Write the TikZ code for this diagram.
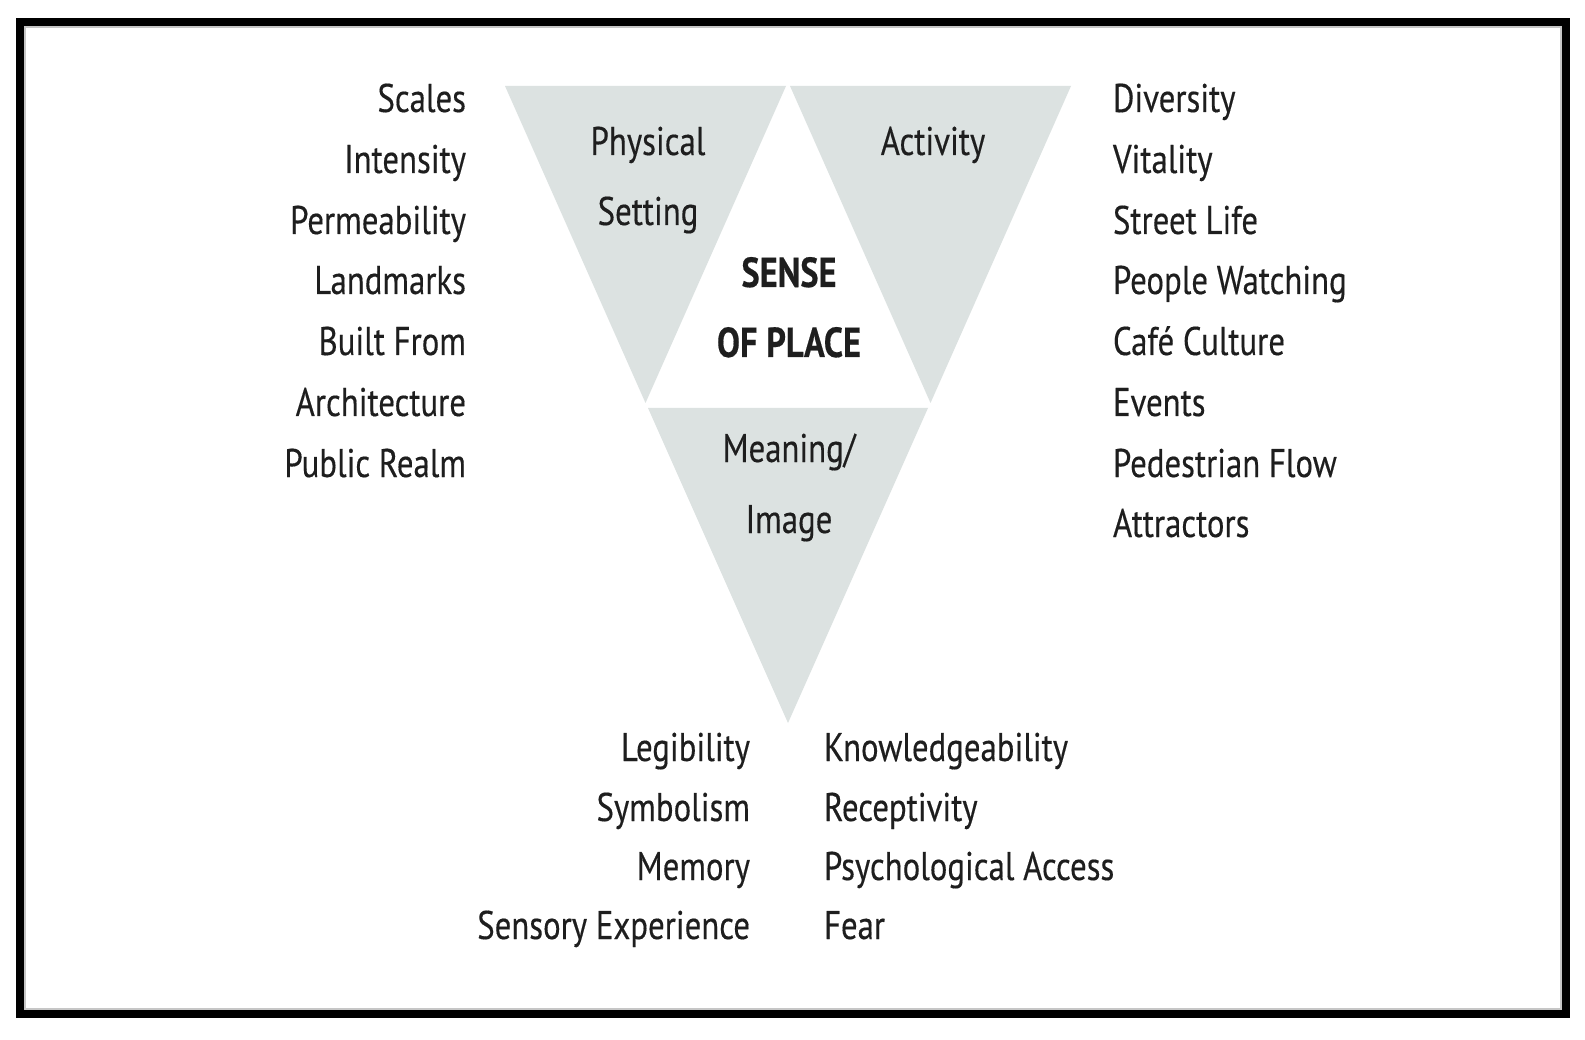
\documentclass[tikz,border=0pt]{standalone}
\usepackage{fontspec}
\setmainfont[FakeStretch=0.82, FakeBold=0.3]{PT Sans}
\begin{document}
\begin{tikzpicture}[x=1pt,y=-1pt,
  lbl/.style={inner sep=0pt, outer sep=0pt, text=txt, font=\fontsize{40}{40}\selectfont},
  lft/.style={lbl, anchor=base east},
  rgt/.style={lbl, anchor=base west},
  ctr/.style={lbl, anchor=base},
  tri/.style={fill=trigray, draw=none},
  frame/.style={draw=black, line width=8pt}]
\definecolor{trigray}{RGB}{220,226,225}
\definecolor{txt}{RGB}{30,30,30}
\useasboundingbox (0,0) rectangle (1585,1040);
\fill[white] (0,0) rectangle (1585,1040);
% frame
\draw[frame] (20,22) rectangle (1566,1014);
\draw[gray!45, line width=1.5pt] (25,27) rectangle (1561,1009);
% triangles
\fill[tri] (505,86) -- (786,86) -- (645.5,403) -- cycle;
\fill[tri] (790,86) -- (1071,86) -- (930.5,403) -- cycle;
\fill[tri] (648,408) -- (928,408) -- (788,723) -- cycle;
% triangle labels
\node[ctr] (phys) at (648,155) {Physical};
\node[ctr] (sett) at (648,225) {Setting};
\node[ctr] (act) at (933,155) {Activity};
\node[ctr] (mean) at (789,462) {Meaning/};
\node[ctr] (img) at (789,533) {Image};
\node[ctr, font=\fontsize{42}{42}\selectfont\bfseries] (sense) at (789,287) {SENSE};
\node[ctr, font=\fontsize{42}{42}\selectfont\bfseries] (ofplace) at (789,357) {OF PLACE};
% left column
\node[lft] (l1) at (466,112) {Scales};
\node[lft] (l2) at (466,173) {Intensity};
\node[lft] (l3) at (466,234) {Permeability};
\node[lft] (l4) at (466,294) {Landmarks};
\node[lft] (l5) at (466,355) {Built From};
\node[lft] (l6) at (466,416) {Architecture};
\node[lft] (l7) at (466,477) {Public Realm};
% right column
\node[rgt] (r1) at (1113,112) {Diversity};
\node[rgt] (r2) at (1113,173) {Vitality};
\node[rgt] (r3) at (1113,234) {Street Life};
\node[rgt] (r4) at (1113,294) {People Watching};
\node[rgt] (r5) at (1113,355) {Café Culture};
\node[rgt] (r6) at (1113,416) {Events};
\node[rgt] (r7) at (1113,477) {Pedestrian Flow};
\node[rgt] (r8) at (1113,537) {Attractors};
% bottom left
\node[lft] (b1) at (750,761) {Legibility};
\node[lft] (b2) at (750,821) {Symbolism};
\node[lft] (b3) at (750,880) {Memory};
\node[lft] (b4) at (750,939) {Sensory Experience};
% bottom right
\node[rgt] (c1) at (824,761) {Knowledgeability};
\node[rgt] (c2) at (824,821) {Receptivity};
\node[rgt] (c3) at (824,880) {Psychological Access};
\node[rgt] (c4) at (824,939) {Fear};
\end{tikzpicture}
\end{document}
